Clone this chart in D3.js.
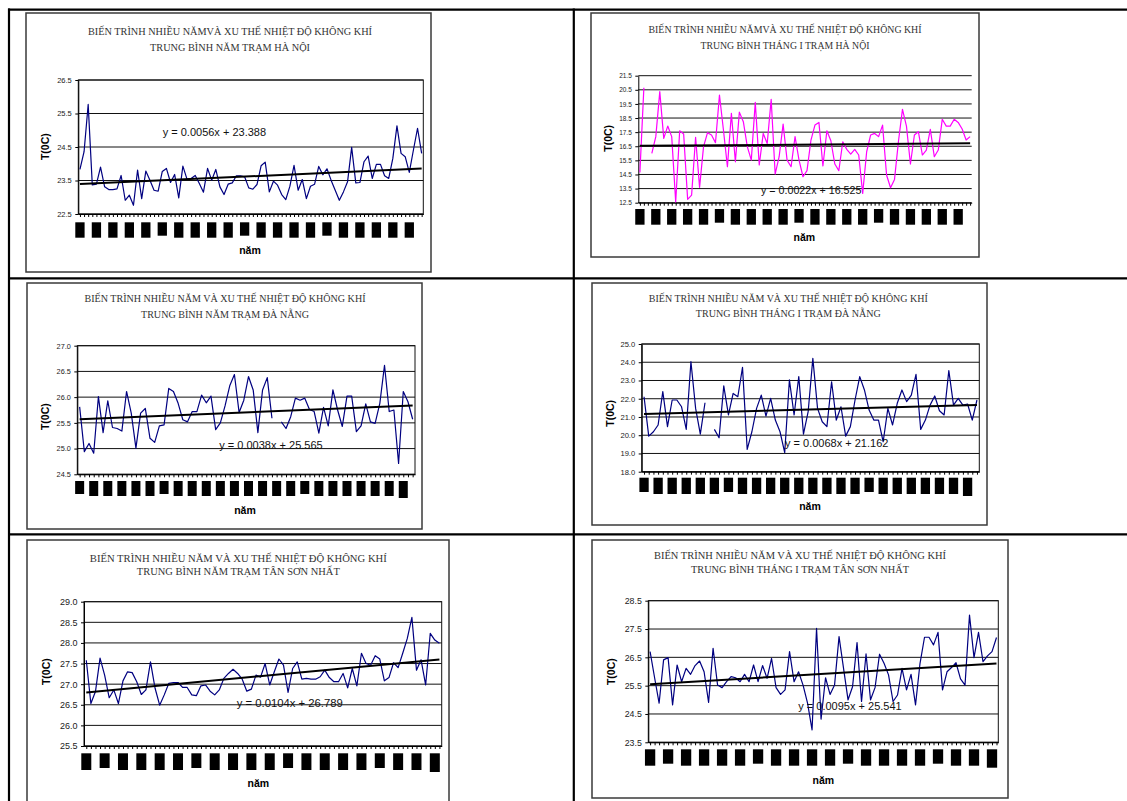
<!DOCTYPE html>
<html>
<head>
<meta charset="utf-8">
<script src="https://cdn.jsdelivr.net/npm/d3@7"></script>
<style>
  body { margin: 0; background: #fff; }
  svg { display: block; }
</style>
</head>
<body>
<div id="chart"></div>
<script>
// ---- data ----
var titleTop = "BIẾN TRÌNH NHIỀU NĂM VÀ XU THẾ NHIỆT ĐỘ KHÔNG KHÍ";
var titleTopHN = "BIẾN TRÌNH NHIỀU NĂMVÀ XU THẾ NHIỆT ĐỘ KHÔNG KHÍ";
var subTitles = [
  "TRUNG BÌNH NĂM TRẠM HÀ NỘI",
  "TRUNG BÌNH THÁNG I TRẠM HÀ NỘI",
  "TRUNG BÌNH NĂM TRẠM ĐÀ NẴNG",
  "TRUNG BÌNH THÁNG I TRẠM ĐÀ NẴNG",
  "TRUNG BÌNH NĂM TRẠM TÂN SƠN NHẤT",
  "TRUNG BÌNH THÁNG I TRẠM TÂN SƠN NHẤT"
];
var yTitle = "T(0C)";
var xTitle = "năm";

var hanoiYear = [23.83,24.36,25.77,23.37,23.39,23.9,23.31,23.23,23.23,23.25,
  23.65,22.91,23.06,22.76,23.81,22.96,23.78,23.51,23.21,23.18,
  23.77,23.86,23.44,23.68,22.98,23.93,23.54,23.56,23.65,23.41,
  23.15,23.86,23.51,23.83,23.31,23.08,23.39,23.43,23.64,23.64,
  23.61,23.28,23.24,23.38,23.94,24.05,23.16,23.48,23.36,23.08,
  22.93,23.33,23.95,23.21,23.53,22.96,23.33,23.39,23.92,23.67,
  23.85,23.51,23.21,22.91,23.16,23.46,24.49,23.43,23.44,24.06,
  24.23,23.56,23.98,23.98,23.64,23.56,24.16,25.13,24.31,24.21,
  23.74,24.41,25.06,24.31];

var hanoiJan = [14.65,20.65,null,16.0,17.18,20.37,17.06,17.93,17.18,12.55,
  17.6,17.37,12.74,13.04,17.13,13.59,16.47,17.46,17.3,16.75,
  20.13,17.65,15.05,18.83,15.4,18.92,18.24,16.47,15.52,19.61,
  15.17,17.41,16.7,19.82,14.53,15.76,18.07,15.52,15.05,17.18,
  15.52,14.34,14.77,16.94,18.0,18.19,15.1,17.6,16.89,15.24,
  14.77,16.82,16.28,15.95,16.28,15.88,13.16,16.11,17.3,17.41,
  17.18,18.0,14.46,13.56,14.15,16.87,19.11,17.93,15.24,17.3,
  17.53,15.88,16.23,17.7,15.76,16.23,18.41,17.93,17.93,18.41,
  18.19,17.72,16.94,17.18];

var danangYear = [25.81,24.94,25.10,24.91,26.01,25.31,25.93,25.41,25.39,25.34,
  26.11,25.69,25.01,25.69,25.78,25.20,25.12,25.44,25.46,26.17,
  26.11,25.88,25.56,25.52,25.72,25.72,26.04,25.89,26.02,25.37,
  25.50,25.83,26.22,26.44,25.70,25.94,26.40,26.14,25.31,26.14,
  26.38,25.59,null,25.52,25.39,25.62,25.98,25.94,25.98,25.76,
  25.72,25.30,25.80,25.44,26.14,25.75,25.43,26.02,26.02,25.33,
  25.44,25.87,25.52,25.49,25.88,26.62,25.72,25.75,24.71,26.11,
  25.91,25.57];

var danangJan = [22.11,19.95,20.19,20.56,22.39,20.47,21.93,21.93,21.56,20.32,
  24.03,21.47,20.06,21.78,null,20.32,19.86,22.70,21.11,22.29,
  22.11,23.72,19.22,20.19,21.47,22.20,21.05,22.02,20.83,20.19,
  19.04,23.03,21.11,23.21,20.06,21.29,24.21,21.47,20.74,20.47,
  22.93,20.83,21.56,19.95,20.47,21.93,23.21,22.48,21.38,20.83,
  20.83,19.64,21.47,20.56,21.75,22.48,21.84,22.20,23.34,20.32,
  20.83,21.65,22.15,21.34,21.11,23.54,21.65,22.02,21.65,21.71,
  20.83,21.93];

var tsnYear = [27.58,26.53,26.82,27.63,27.22,26.67,26.86,26.53,27.08,27.30,
  27.28,27.06,26.75,26.86,27.54,26.90,26.49,26.74,27.02,27.04,
  27.04,26.92,26.92,26.74,26.72,26.96,26.98,26.83,26.74,26.86,
  27.14,27.26,27.36,27.26,27.12,26.83,26.88,27.22,27.17,27.50,
  26.98,27.30,27.61,27.46,26.80,27.38,27.54,27.12,27.14,27.12,
  27.12,27.18,27.34,27.16,27.06,27.06,27.26,26.91,27.38,26.96,
  27.75,27.50,27.46,27.69,27.61,27.08,27.16,27.52,27.40,27.75,
  28.11,28.62,27.34,27.59,26.98,28.23,28.07,27.99];

var tsnJan = [26.70,25.78,24.88,26.41,26.49,24.82,26.23,25.64,26.11,25.90,
  26.21,26.37,25.99,24.91,26.82,25.52,25.43,25.64,25.82,25.78,
  25.64,25.90,25.64,26.23,25.64,26.21,25.76,26.46,25.43,25.19,
  25.35,26.70,25.64,25.99,25.52,24.88,23.94,27.52,24.32,25.78,
  25.19,25.52,27.23,26.11,25.00,25.46,27.02,24.94,26.62,25.00,
  25.43,26.61,26.29,25.88,24.94,25.17,26.11,25.35,25.90,24.82,
  26.29,27.21,27.21,26.94,27.38,25.35,25.99,26.14,26.31,25.74,
  25.52,27.99,26.49,27.38,26.35,26.55,26.70,27.20];

// trend line coefficients (slope, intercept) as printed on each chart
var trendSlopes = [0.0056, 0.0022, 0.0038, 0.0068, 0.0104, 0.0095];
var trendIntercepts = [23.388, 16.525, 25.565, 21.162, 26.789, 25.541];

// y tick labels
var ticksHNYear = [22.5, 23.5, 24.5, 25.5, 26.5];
var ticksHNJan = [12.5, 13.5, 14.5, 15.5, 16.5, 17.5, 18.5, 19.5, 20.5, 21.5];
var ticksDNYear = [24.5, 25.0, 25.5, 26.0, 26.5, 27.0];
var ticksDNJan = [18.0, 19.0, 20.0, 21.0, 22.0, 23.0, 24.0, 25.0];
var ticksTSNYear = [25.5, 26.0, 26.5, 27.0, 27.5, 28.0, 28.5, 29.0];
var ticksTSNJan = [23.5, 24.5, 25.5, 26.5, 27.5, 28.5];

// ---- layout of the six panels ----
var charts = [
  { values: hanoiYear, ticks: ticksHNYear, color: "#000080", title: [titleTopHN, subTitles[0]],
    frame: [26, 13, 405, 259], plot: [78.3, 80, 423.3, 214], pad: 0.4, border: true,
    tcx: 230, t1: 31.7, t2: 47.3, tw: [284, 160], tfs: 10.5,
    ylab: [45, 146.7], xlab: [250, 250.7], eq: [162.7, 132.3], eqfs: 11, tickfs: 7.5,
    blockTop: 222.3, blockH: 15.4, blockW: 9.3, every: 4, short: [5, 10, 15], tallLast: false },
  { values: hanoiJan, ticks: ticksHNJan, color: "#ff00ff", title: [titleTopHN, subTitles[1]],
    frame: [591, 13, 388, 244], plot: [638.3, 75.7, 971.7, 202.7], pad: 0.4, border: false,
    tcx: 785, t1: 29.3, t2: 45, tw: [273, 169], tfs: 10.1,
    ylab: [608.3, 138.3], xlab: [804.3, 237.7], eq: [761, 190], eqfs: 10.7, tickfs: 6.5,
    blockTop: 209, blockH: 15.7, blockW: 9.3, every: 4, short: [5, 10, 15], tallLast: false },
  { values: danangYear, ticks: ticksDNYear, color: "#000080", title: [titleTop, subTitles[2]],
    frame: [27, 283, 395, 246], plot: [77.3, 345.7, 415, 474.3], pad: 0.5, border: true,
    tcx: 225, t1: 298.3, t2: 314.3, tw: [281, 168], tfs: 10.3,
    ylab: [45, 416.7], xlab: [245, 510], eq: [219.3, 445], eqfs: 11, tickfs: 7.3,
    blockTop: 481, blockH: 15, blockW: 9, every: 3, short: [0, 6, 16], tallLast: true },
  { values: danangJan, ticks: ticksDNJan, color: "#000080", title: [titleTop, subTitles[3]],
    frame: [592, 283, 395, 242], plot: [641.7, 344, 979.3, 471.7], pad: 0.5, border: true,
    tcx: 788.3, t1: 298.3, t2: 313.3, tw: [279, 185], tfs: 10.2,
    ylab: [610, 413.3], xlab: [810, 506.7], eq: [785, 443.3], eqfs: 11, tickfs: 7.6,
    blockTop: 477.7, blockH: 16.3, blockW: 9.3, every: 3, short: [0, 6, 16], tallLast: true },
  { values: tsnYear, ticks: ticksTSNYear, color: "#000080", title: [titleTop, subTitles[4]],
    frame: [27, 540, 422, 270], plot: [84, 601.7, 441.7, 746], pad: 0.5, border: true,
    tcx: 238.3, t1: 557.7, t2: 571, tw: [297, 203], tfs: 10.9,
    ylab: [46.7, 671.7], xlab: [258.3, 783.3], eq: [236.7, 703.3], eqfs: 11.3, tickfs: 9,
    blockTop: 753.3, blockH: 16.7, blockW: 10, every: 4, short: [1, 6, 11, 16], tallLast: true },
  { values: tsnJan, ticks: ticksTSNJan, color: "#000080", title: [titleTop, subTitles[5]],
    frame: [592, 540, 416, 258], plot: [648.3, 600.7, 998.3, 742.3], pad: 0.4, border: true,
    tcx: 800, t1: 555.7, t2: 569.3, tw: [292, 218], tfs: 10.7,
    ylab: [611.7, 671.7], xlab: [823.3, 780], eq: [798.3, 705.7], eqfs: 11, tickfs: 8.8,
    blockTop: 749.3, blockH: 16.4, blockW: 10.3, every: 4, short: [1, 6, 11, 16], tallLast: true }
];

var svg = d3.select("#chart").append("svg")
    .attr("width", 1127)
    .attr("height", 801);

// table borders
var table = svg.append("g").attr("stroke", "#000").attr("stroke-width", 2.2);
table.append("line").attr("x1", 8).attr("y1", 9.7).attr("x2", 1127).attr("y2", 9.7);
table.append("line").attr("x1", 9).attr("y1", 8.6).attr("x2", 9).attr("y2", 801);
table.append("line").attr("x1", 573.8).attr("y1", 8.6).attr("x2", 573.8).attr("y2", 801);
table.append("line").attr("x1", 8).attr("y1", 278.3).attr("x2", 1127).attr("y2", 278.3);
table.append("line").attr("x1", 8).attr("y1", 534.3).attr("x2", 1127).attr("y2", 534.3);

charts.forEach(function(c, k) {
    var g = svg.append("g");
    var p = c.plot;
    var n = c.values.length;

    g.append("rect")
        .attr("x", c.frame[0]).attr("y", c.frame[1])
        .attr("width", c.frame[2]).attr("height", c.frame[3])
        .attr("fill", "#fff")
        .attr("stroke", "#3a3a3a")
        .attr("stroke-width", 1.5);

    var x = d3.scalePoint().domain(d3.range(n)).range([p[0], p[2]]).padding(c.pad);
    var y = d3.scaleLinear()
        .domain([c.ticks[0], c.ticks[c.ticks.length - 1]])
        .range([p[3], p[1]]);

    // gridlines
    g.selectAll(".grid").data(c.ticks).enter().append("line")
        .attr("x1", p[0]).attr("x2", p[2])
        .attr("y1", function(d) { return y(d); })
        .attr("y2", function(d) { return y(d); })
        .attr("stroke", "#111")
        .attr("stroke-width", 1);

    if (c.border) {
        g.append("rect")
            .attr("x", p[0]).attr("y", p[1])
            .attr("width", p[2] - p[0]).attr("height", p[3] - p[1])
            .attr("fill", "none").attr("stroke", "#111").attr("stroke-width", 1);
    }

    // y axis
    var yAxis = g.append("g")
        .attr("transform", "translate(" + p[0] + ",0)")
        .call(d3.axisLeft(y).tickValues(c.ticks).tickFormat(d3.format(".1f"))
            .tickSize(3).tickSizeOuter(0).tickPadding(3.5));
    yAxis.selectAll("text")
        .style("font-family", "Arial, 'Liberation Sans', sans-serif")
        .style("font-size", c.tickfs + "px")
        .attr("fill", "#222");

    // x axis (one tick per year)
    g.append("g")
        .attr("transform", "translate(0," + p[3] + ")")
        .call(d3.axisBottom(x).tickFormat("").tickSize(3).tickSizeOuter(0));

    // year labels rendered as solid blocks
    var blocks = d3.range(0, n, c.every);
    g.selectAll(".blk").data(blocks).enter().append("rect")
        .attr("x", function(d) { return x(d) - c.blockW / 2; })
        .attr("y", c.blockTop)
        .attr("width", c.blockW)
        .attr("height", function(d, i) {
            if (c.short.indexOf(i) >= 0) return c.blockH - 2;
            if (c.tallLast && i === blocks.length - 1) return c.blockH + 2;
            return c.blockH;
        })
        .attr("fill", "#000");

    // series line
    var line = d3.line()
        .defined(function(d) { return d != null; })
        .x(function(d, i) { return x(i); })
        .y(function(d) { return y(d); });
    g.append("path")
        .datum(c.values)
        .attr("d", line)
        .attr("fill", "none")
        .attr("stroke", c.color)
        .attr("stroke-width", 1.2)
        .attr("stroke-linejoin", "round");

    // linear trend
    var a = trendSlopes[k], b = trendIntercepts[k];
    g.append("line")
        .attr("x1", x(0)).attr("y1", y(a * 1 + b))
        .attr("x2", x(n - 1)).attr("y2", y(a * n + b))
        .attr("stroke", "#000")
        .attr("stroke-width", 2);

    g.append("text")
        .attr("x", c.eq[0]).attr("y", c.eq[1])
        .attr("dy", "0.35em")
        .style("font-family", "Arial, 'Liberation Sans', sans-serif")
        .style("font-size", c.eqfs + "px")
        .attr("fill", "#111")
        .text("y = " + d3.format(".4f")(a) + "x + " + d3.format(".3f")(b));

    // titles
    [c.t1, c.t2].forEach(function(ty, j) {
        g.append("text")
            .attr("x", c.tcx).attr("y", ty)
            .attr("dy", "0.35em")
            .attr("text-anchor", "middle")
            .attr("textLength", c.tw[j])
            .attr("lengthAdjust", "spacingAndGlyphs")
            .style("font-family", "'Liberation Serif', 'Times New Roman', serif")
            .style("font-size", c.tfs + "px")
            .attr("fill", "#333")
            .text(c.title[j]);
    });

    g.append("text")
        .attr("transform", "translate(" + c.ylab[0] + "," + c.ylab[1] + ") rotate(-90)")
        .attr("dy", "0.35em")
        .attr("text-anchor", "middle")
        .style("font-family", "Arial, 'Liberation Sans', sans-serif")
        .style("font-size", "10.5px")
        .style("font-weight", "bold")
        .text(yTitle);

    g.append("text")
        .attr("x", c.xlab[0]).attr("y", c.xlab[1])
        .attr("dy", "0.35em")
        .attr("text-anchor", "middle")
        .style("font-family", "Arial, 'Liberation Sans', sans-serif")
        .style("font-size", "10.5px")
        .style("font-weight", "bold")
        .text(xTitle);
});
</script>
</body>
</html>
